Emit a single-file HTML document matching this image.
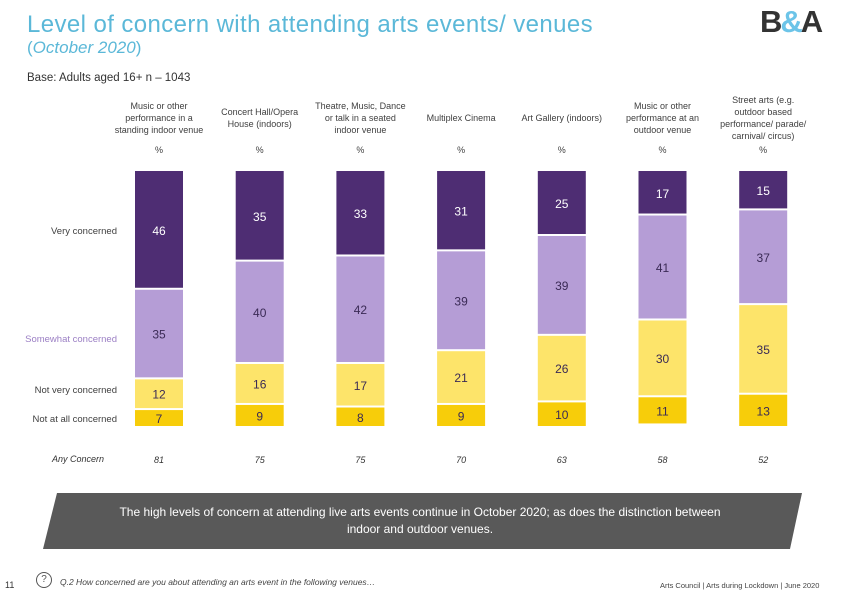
<!DOCTYPE html>
<html><head><meta charset="utf-8"><style>
body{margin:0;background:#fff;font-family:"Liberation Sans",sans-serif;}
#wrap{position:relative;width:842px;height:596px;overflow:hidden;}
.abs{position:absolute;}
.hdr{position:absolute;font-size:9px;color:#404040;text-align:center;width:100px;line-height:12px;}
.pct{position:absolute;font-size:9px;color:#404040;text-align:center;width:40px;}
.lbl{position:absolute;font-size:9.5px;color:#404040;text-align:right;width:110px;}
</style></head><body>
<div id="wrap">
<div class="abs" style="left:27px;top:11px;font-size:24px;color:#5bb8d8;letter-spacing:0.4px;">Level of concern with attending arts events/ venues</div>
<div class="abs" style="left:27px;top:38px;font-size:17px;color:#5bb8d8;">(<i>October 2020</i>)</div>
<div class="abs" style="left:760px;top:4px;font-size:31px;font-weight:bold;color:#333;letter-spacing:-2px;">B<span style="color:#6cc4e8">&amp;</span>A</div>
<div class="abs" style="left:27px;top:72px;font-size:11.5px;color:#333;">Base: Adults aged 16+ n – 1043</div>

<svg id="chart" class="abs" style="left:0;top:0" width="842" height="596"></svg>

<div class="lbl" style="left:7px;top:226px;">Very concerned</div>
<div class="lbl" style="left:7px;top:334px;color:#9b7fc4;">Somewhat concerned</div>
<div class="lbl" style="left:7px;top:385px;">Not very concerned</div>
<div class="lbl" style="left:7px;top:414px;">Not at all concerned</div>
<div class="abs" style="left:52px;top:454px;font-size:9px;font-style:italic;color:#333;">Any Concern</div>

<svg class="abs" style="left:0;top:0" width="842" height="596"><polygon points="57,493 802,493 790,549 43,549" fill="#595959"/></svg>
<div class="abs" style="left:110px;top:504px;width:620px;text-align:center;color:#fff;font-size:12px;line-height:17px;">The high levels of concern at attending live arts events continue in October 2020; as does the distinction between indoor and outdoor venues.</div>

<div class="abs" style="left:5px;top:580px;font-size:9px;color:#333;">11</div>
<div class="abs" style="left:36px;top:572px;width:14px;height:14px;border:1px solid #555;border-radius:50%;font-size:10px;text-align:center;line-height:14px;color:#555;">?</div>
<div class="abs" style="left:60px;top:577px;font-size:8.5px;font-style:italic;color:#444;">Q.2 How concerned are you about attending an arts event in the following venues…</div>
<div class="abs" style="left:660px;top:581px;font-size:7.5px;color:#444;">Arts Council | Arts during Lockdown | June 2020</div>
</div>
<script>
const categories=["Music or other<br>performance in a<br>standing indoor venue","Concert Hall/Opera<br>House (indoors)","Theatre, Music, Dance<br>or talk in a seated<br>indoor venue","Multiplex Cinema","Art Gallery (indoors)","Music or other<br>performance at an<br>outdoor venue","Street arts (e.g.<br>outdoor based<br>performance/ parade/<br>carnival/ circus)"];
const veryConcerned=[46,35,33,31,25,17,15];
const somewhatConcerned=[35,40,42,39,39,41,37];
const notVeryConcerned=[12,16,17,21,26,30,35];
const notAtAllConcerned=[7,9,8,9,10,11,13];
const anyConcern=[81,75,75,70,63,58,52];
const seriesNames=["very","somewhat","not-very","not-at-all"];
const series=[veryConcerned,somewhatConcerned,notVeryConcerned,notAtAllConcerned];
const colors=["#4e2d73","#b59dd6","#fde46a","#f7cd0a"];
const textColors=["#fff","#3a2a55","#3a2a55","#3a2a55"];
const ns="http://www.w3.org/2000/svg";
const svg=document.getElementById("chart");
const wrap=document.getElementById("wrap");
const top0=171,bot0=427,x0=135,step=100.7,bw=48;
function xPos(i){return x0+i*step;}
function yScale(v){return v*(bot0-top0)/100;}
categories.forEach((c,i)=>{
  const cx=xPos(i)+bw/2;
  const h=document.createElement("div");h.className="hdr";h.innerHTML=c;
  
  
  const lines=c.split("<br>").length;
  h.style.left=(cx-50)+"px";h.style.top=(118-lines*6)+"px";wrap.appendChild(h);
  const p=document.createElement("div");p.className="pct";p.textContent="%";
  
  
  p.style.left=(cx-20)+"px";p.style.top="145px";wrap.appendChild(p);
  let y=top0;
  series.forEach((s,k)=>{
    const hh=yScale(s[i]);
    const r=document.createElementNS(ns,"rect");
    
    
    r.setAttribute("x",xPos(i));r.setAttribute("y",y+(k?1:0));
    r.setAttribute("width",bw);r.setAttribute("height",Math.max(0,hh-(k?2:1)));
    r.setAttribute("fill",colors[k]);svg.appendChild(r);
    const t=document.createElementNS(ns,"text");
    
    
    t.setAttribute("x",cx);t.setAttribute("y",y+hh/2+5);t.setAttribute("text-anchor","middle");
    t.setAttribute("font-size","12");t.setAttribute("fill",textColors[k]);
    t.setAttribute("font-family","Liberation Sans, sans-serif");
    t.textContent=s[i];svg.appendChild(t);
    y+=hh;
  });
  const a=document.createElementNS(ns,"text");
  
  
  a.setAttribute("x",cx);a.setAttribute("y",463);a.setAttribute("text-anchor","middle");
  a.setAttribute("font-size","9");a.setAttribute("font-style","italic");a.setAttribute("fill","#333");
  a.setAttribute("font-family","Liberation Sans, sans-serif");
  a.textContent=anyConcern[i];svg.appendChild(a);
});
</script>
</body></html>
